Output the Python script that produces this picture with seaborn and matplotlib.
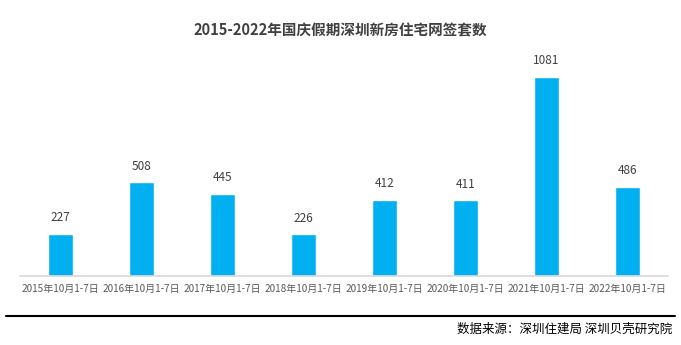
import matplotlib
matplotlib.use("Agg")
import matplotlib.pyplot as plt
import seaborn as sns
import pandas as pd

years = ["2015", "2016", "2017", "2018", "2019", "2020", "2021", "2022"]
categories = [f"{y}年10月1-7日" for y in years]
values = [227, 508, 445, 226, 412, 411, 1081, 486]
title = "2015-2022年国庆假期深圳新房住宅网签套数"
source = "数据来源：深圳住建局 深圳贝壳研究院"

sns.set_theme(style="white")
plt.rcParams["font.family"] = ["Noto Sans CJK SC", "DejaVu Sans"]

df = pd.DataFrame({"period": categories, "count": values})

fig = plt.figure(figsize=(6.81, 3.45), dpi=100)
ax = fig.add_axes([20 / 681, 1 - 276 / 345, 648 / 681, 221 / 345])

sns.barplot(data=df, x="period", y="count", color="#00B0F0", saturation=1,
            width=0.31, ax=ax)

ax.set_xlim(-0.5, len(categories) - 0.5)
ax.set_ylim(0, 221 / 0.1841)
ax.set_xlabel("")
ax.set_ylabel("")
ax.set_yticks([])
for s in ["top", "right", "left"]:
    ax.spines[s].set_visible(False)
ax.spines["bottom"].set_color("#D9D9D9")
ax.spines["bottom"].set_linewidth(1.2)
ax.tick_params(axis="x", length=0, pad=6, labelsize=7.2, labelcolor="#595959")

for i, v in enumerate(values):
    ax.annotate(str(v), (i, v), xytext=(0, 7), textcoords="offset points",
                ha="center", va="bottom", fontsize=8.5, color="#404040")

fig.text(0.5, 1 - 30 / 345, title, ha="center", va="center",
         fontsize=10.5, fontweight="bold", color="#404040")

fig.add_artist(plt.Line2D([6 / 681, 675 / 681], [1 - 316 / 345] * 2,
                          color="black", linewidth=1.5))
fig.text(672 / 681, 1 - 329 / 345, source, ha="right", va="center",
         fontsize=9, color="black")

fig.savefig("out.png", dpi=100)
